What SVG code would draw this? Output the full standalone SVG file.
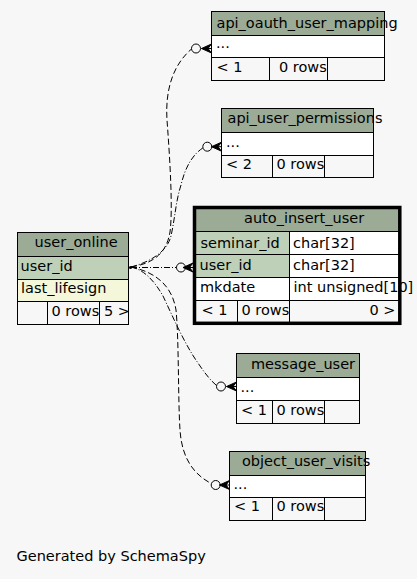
<svg xmlns="http://www.w3.org/2000/svg" xmlns:xlink="http://www.w3.org/1999/xlink" width="417" height="579" viewBox="0 0 417 579">
<style>
.hd{fill:#9bab96;stroke:#000;stroke-width:1}
.pk{fill:#bed1b8;stroke:#000;stroke-width:1}
.ix{fill:#f4f7da;stroke:#000;stroke-width:1}
.wh{fill:#ffffff;stroke:#000;stroke-width:1}
.ft{fill:#f7f7f7;stroke:#000;stroke-width:1}
text{font-family:"DejaVu Sans","Liberation Sans",sans-serif;font-size:14.5px;fill:#000}
.conn{fill:none;stroke:#000;stroke-width:1;stroke-dasharray:6,3}
.dd{fill:none;stroke:#000;stroke-width:1;stroke-dasharray:6,2,1,2}
.odot{fill:none;stroke:#000;stroke-width:1}
.crow{fill:#000;stroke:#000;stroke-width:1}
.thick{fill:none;stroke:#000;stroke-width:3.5}
</style>
<defs>
<path id="crow" class="crow" d="M-10,0 L0,-4.5 L-3.5,0 L0,4.5 Z M-10,0 H0"/>
</defs>
<rect x="0" y="0" width="417" height="579" fill="#f7f7f7"/>

<g id="connectors">
<path class="conn" d="M131,267 C150,264 166,256 170,232 C173,210 170,160 167,120 C165,88 174,64 191.5,49"/>
<circle class="odot" cx="196" cy="48.5" r="4.5"/>
<use xlink:href="#crow" x="211.5" y="48.5"/>

<path class="dd" d="M131,267 C150,262 167,252 171,236 C175,218 176,200 181,185 C185,168 192,155 202.8,148"/>
<circle class="odot" cx="207.3" cy="146.7" r="4.5"/>
<use xlink:href="#crow" x="221.5" y="146.7"/>

<path class="dd" d="M131,267.5 L176.5,267.5"/>
<circle class="odot" cx="181" cy="267.5" r="4.5"/>
<use xlink:href="#crow" x="193" y="267.5"/>

<path class="dd" d="M131,267 C145,270 155,282 163,296 C172,315 185,345 198,363 C204,372 210,380 216.5,385.5"/>
<circle class="odot" cx="221" cy="386.5" r="4.5"/>
<use xlink:href="#crow" x="236.5" y="386.5"/>

<path class="conn" d="M131,267 C155,272 172,285 176,310 C179,340 178,400 180,430 C182,460 195,475 211.2,483.5"/>
<circle class="odot" cx="215.7" cy="485" r="4.5"/>
<use xlink:href="#crow" x="229.5" y="485"/>

<circle cx="130.5" cy="267.5" r="1.5" fill="#000"/>
</g>

<g id="api_oauth_user_mapping">
<rect class="hd" x="211.5" y="11.5" width="173" height="24"/>
<rect class="wh" x="211.5" y="35.5" width="173" height="22"/>
<rect class="ft" x="211.5" y="57.5" width="58" height="23"/>
<rect class="ft" x="269.5" y="57.5" width="58" height="23"/>
<rect class="ft" x="327.5" y="57.5" width="57" height="23"/>
<text x="216.5" y="27.5">api_oauth_user_mapping</text>
<text x="216" y="48">...</text>
<text x="216.5" y="72">&lt; 1</text>
<text x="279" y="72">0 rows</text>
</g>

<g id="api_user_permissions">
<rect class="hd" x="221.5" y="108.5" width="152" height="24"/>
<rect class="wh" x="221.5" y="132.5" width="152" height="23"/>
<rect class="ft" x="221.5" y="155.5" width="51" height="22"/>
<rect class="ft" x="272.5" y="155.5" width="52" height="22"/>
<rect class="ft" x="324.5" y="155.5" width="49" height="22"/>
<text x="227.5" y="123">api_user_permissions</text>
<text x="226" y="147">...</text>
<text x="226" y="168.5">&lt; 2</text>
<text x="276.5" y="168.5">0 rows</text>
</g>

<g id="auto_insert_user">
<rect class="hd" x="194.5" y="207.5" width="205" height="24"/>
<rect class="pk" x="194.5" y="231.5" width="95" height="23"/>
<rect class="wh" x="289.5" y="231.5" width="110" height="23"/>
<rect class="pk" x="194.5" y="254.5" width="95" height="23"/>
<rect class="wh" x="289.5" y="254.5" width="110" height="23"/>
<rect class="wh" x="194.5" y="277.5" width="95" height="23"/>
<rect class="wh" x="289.5" y="277.5" width="110" height="23"/>
<rect class="ft" x="194.5" y="300.5" width="43" height="23"/>
<rect class="ft" x="237.5" y="300.5" width="52" height="23"/>
<rect class="ft" x="289.5" y="300.5" width="110" height="23"/>
<text x="244" y="222.5">auto_insert_user</text>
<text x="200.5" y="248">seminar_id</text>
<text x="293" y="248">char[32]</text>
<text x="199.5" y="269.5">user_id</text>
<text x="293" y="269.5">char[32]</text>
<text x="200" y="292">mkdate</text>
<text x="293.5" y="292">int unsigned[10]</text>
<text x="201.5" y="314.5">&lt; 1</text>
<text x="241.5" y="314.5">0 rows</text>
<text x="395.5" y="314.5" text-anchor="end">0 &gt;</text>
<rect class="thick" x="194.5" y="207.5" width="205.3" height="115.8"/>
</g>

<g id="user_online">
<rect class="hd" x="17.5" y="232.5" width="111" height="24"/>
<rect class="pk" x="17.5" y="256.5" width="111" height="23"/>
<rect class="ix" x="17.5" y="279.5" width="111" height="22"/>
<rect class="ft" x="17.5" y="301.5" width="30" height="23"/>
<rect class="ft" x="47.5" y="301.5" width="52" height="23"/>
<rect class="ft" x="99.5" y="301.5" width="29" height="23"/>
<text x="34.5" y="247">user_online</text>
<text x="20.5" y="271">user_id</text>
<text x="21" y="293">last_lifesign</text>
<text x="51.5" y="315.5">0 rows</text>
<text x="104" y="315.5">5 &gt;</text>
</g>

<g id="message_user">
<rect class="hd" x="236.5" y="353.5" width="123" height="24"/>
<rect class="wh" x="236.5" y="377.5" width="123" height="23"/>
<rect class="ft" x="236.5" y="400.5" width="36" height="23"/>
<rect class="ft" x="272.5" y="400.5" width="52" height="23"/>
<rect class="ft" x="324.5" y="400.5" width="35" height="23"/>
<text x="251" y="368.5">message_user</text>
<text x="240.5" y="392">...</text>
<text x="241" y="414.5">&lt; 1</text>
<text x="276.5" y="414.5">0 rows</text>
</g>

<g id="object_user_visits">
<rect class="hd" x="229.5" y="451.5" width="136" height="24"/>
<rect class="wh" x="229.5" y="475.5" width="136" height="22"/>
<rect class="ft" x="229.5" y="497.5" width="43" height="23"/>
<rect class="ft" x="272.5" y="497.5" width="52" height="23"/>
<rect class="ft" x="324.5" y="497.5" width="41" height="23"/>
<text x="242" y="465.5">object_user_visits</text>
<text x="233.5" y="488.5">...</text>
<text x="234" y="511">&lt; 1</text>
<text x="276.5" y="511">0 rows</text>
</g>

<text x="16.5" y="561">Generated by SchemaSpy</text>
</svg>
